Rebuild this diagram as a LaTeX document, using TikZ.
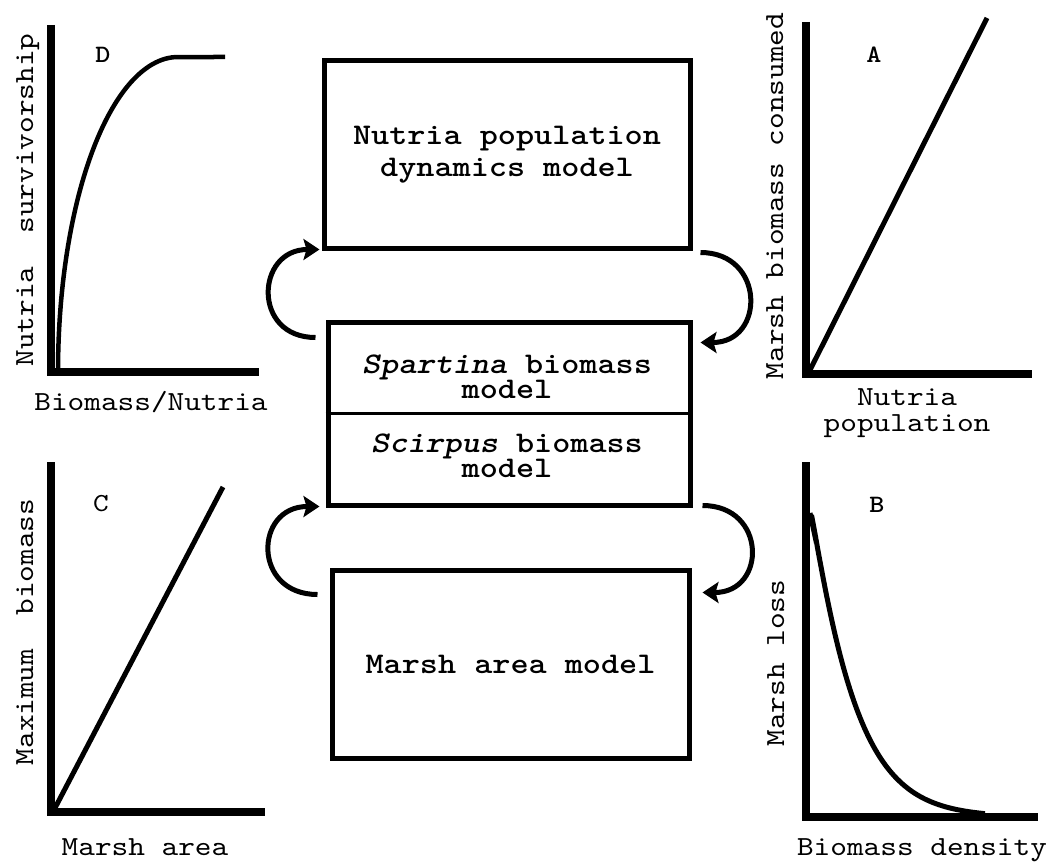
\documentclass[tikz,border=0pt]{standalone}
\usepackage{fontspec}
\usetikzlibrary{arrows.meta,calc}
\newfontfamily\cmono{lmmono10-regular.otf}[
  BoldFont=lmmonolt10-bold.otf,
  ItalicFont=lmmono10-italic.otf,
  BoldItalicFont=lmmonolt10-boldoblique.otf,
  FakeStretch=1.15]
\newcommand\mdlfont{\cmono\bfseries\fontsize{30}{32}\selectfont}
\newcommand\mdlfontb{\cmono\bfseries\fontsize{30}{25.5}\selectfont}
\newcommand\axfont{\cmono\fontsize{27.6}{23.5}\selectfont}
\newcommand\axfontb{\cmono\fontsize{27.6}{26}\selectfont}
\newcommand\pnlfont{\cmono\bfseries\fontsize{25}{24}\selectfont}
\newcommand\pnlfontr{\cmono\fontsize{26}{24}\selectfont}
\begin{document}
\begin{tikzpicture}[x=1pt,y=-1pt,
  axis/.style={line width=8pt, line join=miter, line cap=butt},
  curve/.style={line width=5pt},
  modelbox/.style={draw, line width=5pt, inner sep=0pt, align=center, font=\mdlfont},
  subtext/.style={inner sep=0pt, align=center, font=\mdlfontb},
  axlabel/.style={font=\axfont, inner sep=0pt, anchor=base},
  panel/.style={font=\pnlfont, inner sep=0pt, anchor=base},
  loop/.style={line width=5pt, -{Stealth[length=16pt,width=21pt,inset=3pt]}}]
\useasboundingbox (0,0) rectangle (1046,864);
\fill[white] (0,0) rectangle (1046,864);

% model boxes
\node[modelbox, minimum width=366pt, minimum height=187pt] (m1) at (507,154.5) {Nutria population\\dynamics model};
\node[modelbox, minimum width=362pt, minimum height=183pt] (m2) at (509,413.5) {};
\draw[line width=3.5pt] (m2.west) -- (m2.east);
\node[subtext] (s1) at (507,377) {{\itshape Spartina} biomass\\model};
\node[subtext] (s2) at (507,456) {{\itshape Scirpus} biomass\\model};
\node[modelbox, minimum width=357pt, minimum height=188pt] (m3) at (510.5,664) {Marsh area model};

% loop arrows
\coordinate (l1a) at ($(m2.north west)+(-10,18)$);
\coordinate (l1b) at ($(m1.south west)+(-2,-1)$);
\coordinate (r1a) at ($(m1.south east)+(8,2)$);
\coordinate (r1b) at ($(m2.north east)+(8,23)$);
\coordinate (l2a) at ($(m3.north west)+(-12,27)$);
\coordinate (l2b) at ($(m2.south west)+(-6,-1)$);
\coordinate (r2a) at ($(m2.south east)+(10,-2)$);
\coordinate (r2b) at ($(m3.north east)+(11,25)$);
\draw[loop] (l1a) to[out=180,in=180,looseness=1.85] (l1b);
\draw[loop] (r1a) to[out=0,in=0,looseness=1.85] (r1b);
\draw[loop] (l2a) to[out=180,in=180,looseness=1.9] (l2b);
\draw[loop] (r2a) to[out=0,in=0,looseness=1.9] (r2b);

% panel D
\draw[axis] (51,25) -- (51,372) -- (259,372);
\draw[line width=4.5pt] plot[domain=180:90, samples=60, smooth] ({178+120*cos(\x)},{372-315*sin(\x)}) -- (225,57);
\node[panel] (pd) at (103,63) {D};
\node[axlabel, rotate=90] (yd) at (33,200) {Nutria\ \ survivorship};
\node[axlabel] (xd) at (151,410) {Biomass/Nutria};

% panel A
\draw[axis] (806,22) -- (806,374) -- (1032,374);
\draw[curve] (810,370) -- (987,18);
\node[panel] (pa) at (874,63) {A};
\node[axlabel, rotate=90] (ya) at (783,196) {Marsh biomass consumed};
\node[font=\axfontb, inner sep=0pt, align=center, anchor=north] (xa) at (907,388) {Nutria\\population};

% panel C
\draw[axis] (51,462) -- (51,812) -- (265,812);
\draw[curve] (55,808) -- (223,487);
\node[panel, font=\pnlfontr] (pc) at (101,511) {C};
\node[axlabel, rotate=90] (yc) at (33,632) {Maximum\ \ biomass};
\node[axlabel] (xc) at (145,855) {Marsh area};

% panel B
\draw[axis] (806,462) -- (806,817) -- (1038,817);
\draw[curve] (810,513) -- (811.5,520) -- plot[domain=811.5:985, samples=80, smooth] (\x,{817-304*exp(-((\x-811)/44.3)^1.1)});
\node[panel] (pb) at (877,512) {B};
\node[axlabel, rotate=90] (yb) at (784,663) {Marsh loss};
\node[axlabel] (xb) at (922,855) {Biomass density};
\end{tikzpicture}
\end{document}
